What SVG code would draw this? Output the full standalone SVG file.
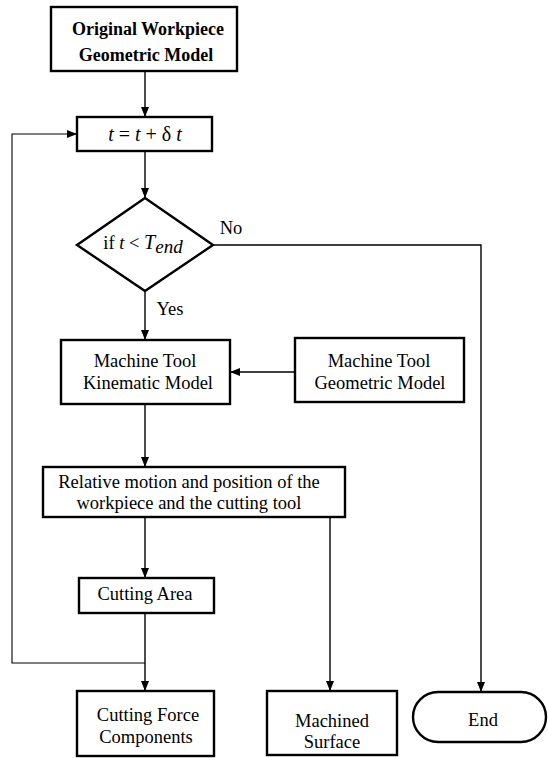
<svg xmlns="http://www.w3.org/2000/svg" width="548" height="758" viewBox="0 0 548 758">
<defs>
<marker id="arr" viewBox="0 0 10 10" refX="10" refY="5" markerWidth="10" markerHeight="8" markerUnits="userSpaceOnUse" orient="auto" preserveAspectRatio="none">
<path d="M0,0 L10,5 L0,10 z" fill="#000"/>
</marker>
<style>
.box{fill:#fff;stroke:#000;stroke-width:2.4}
.ln{fill:none;stroke:#000;stroke-width:1.4}
.t{font-family:"Liberation Serif","Times New Roman",serif;font-size:18.5px;fill:#000;text-anchor:middle}
.b{font-weight:bold;font-size:18px}
.i{font-style:italic}
</style>
</defs>
<rect width="548" height="758" fill="#fff"/>
<g id="connectors">
<line class="ln" x1="145" y1="71" x2="145" y2="117" marker-end="url(#arr)"/>
<line class="ln" x1="145" y1="151" x2="145" y2="198" marker-end="url(#arr)"/>
<polyline class="ln" points="213,245 481,245 481,692" marker-end="url(#arr)"/>
<line class="ln" x1="145" y1="291" x2="145" y2="340" marker-end="url(#arr)"/>
<line class="ln" x1="295" y1="372" x2="230" y2="372" marker-end="url(#arr)"/>
<line class="ln" x1="145" y1="404" x2="145" y2="467" marker-end="url(#arr)"/>
<line class="ln" x1="145" y1="517" x2="145" y2="578" marker-end="url(#arr)"/>
<line class="ln" x1="145" y1="613" x2="145" y2="691" marker-end="url(#arr)"/>
<polyline class="ln" style="stroke-width:1.1" points="145,663 12,663 12,134 77,134" marker-end="url(#arr)"/>
<line class="ln" x1="330" y1="517" x2="330" y2="691" marker-end="url(#arr)"/>
<text class="t" x="231" y="234">No</text>
<text class="t" x="170" y="315">Yes</text>
</g>
<g id="n-original">
<rect class="box" x="51" y="7" width="186" height="64"/>
<text class="t b" x="148" y="35">Original Workpiece</text>
<text class="t b" x="146" y="61">Geometric Model</text>
</g>
<g id="n-update">
<rect class="box" x="77" y="117" width="135" height="34"/>
<text class="t" x="145" y="141" style="font-size:20px"><tspan class="i">t</tspan> = <tspan class="i">t</tspan> + δ  <tspan class="i">t</tspan></text>
</g>
<g id="n-decision">
<polygon class="box" points="145,198 213,245 145,291 77,245"/>
<text class="t" x="143" y="249">if <tspan class="i">t</tspan> &lt; <tspan class="i" style="font-size:20px">T</tspan><tspan class="i" dy="4" style="font-size:19px">end</tspan></text>
</g>
<g id="n-kinematic">
<rect class="box" x="61" y="340" width="169" height="64"/>
<text class="t" x="145" y="367">Machine Tool</text>
<text class="t" x="148" y="389">Kinematic Model</text>
</g>
<g id="n-geometric">
<rect class="box" x="295" y="338" width="169" height="64"/>
<text class="t" x="379" y="367">Machine Tool</text>
<text class="t" x="380" y="389">Geometric Model</text>
</g>
<g id="n-relative">
<rect class="box" x="43" y="467" width="302" height="50"/>
<text class="t" x="189" y="488">Relative motion and position of the</text>
<text class="t" x="189" y="509">workpiece and the cutting tool</text>
</g>
<g id="n-area">
<rect class="box" x="79" y="578" width="135" height="35"/>
<text class="t" x="145" y="600">Cutting Area</text>
</g>
<g id="n-force">
<rect class="box" x="77" y="691" width="137" height="65"/>
<text class="t" x="148" y="721">Cutting Force</text>
<text class="t" x="146" y="743">Components</text>
</g>
<g id="n-surface">
<rect class="box" x="267" y="691" width="130" height="64"/>
<text class="t" x="332" y="727">Machined</text>
<text class="t" x="332" y="748">Surface</text>
</g>
<g id="n-end">
<rect class="box" x="413" y="692" width="133" height="50" rx="25" ry="25"/>
<text class="t" x="483" y="726">End</text>
</g>
</svg>
